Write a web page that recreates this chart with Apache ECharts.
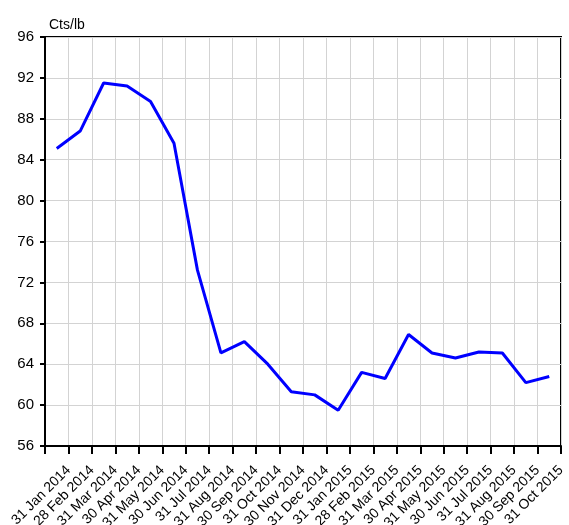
<!DOCTYPE html>
<html>
<head>
<meta charset="utf-8">
<script src="https://cdn.jsdelivr.net/npm/echarts@6/dist/echarts.min.js"></script>
<style>
  html, body { margin: 0; padding: 0; background: #fff; }
  #main { width: 569px; height: 525px; }
</style>
</head>
<body>
<div id="main"></div>
<script>
// month-end dates on the x axis
var months = ['31 Jan 2014', '28 Feb 2014', '31 Mar 2014', '30 Apr 2014', '31 May 2014', '30 Jun 2014',
    '31 Jul 2014', '31 Aug 2014', '30 Sep 2014', '31 Oct 2014', '30 Nov 2014', '31 Dec 2014',
    '31 Jan 2015', '28 Feb 2015', '31 Mar 2015', '30 Apr 2015', '31 May 2015', '30 Jun 2015',
    '31 Jul 2015', '31 Aug 2015', '30 Sep 2015', '31 Oct 2015'];
// price, cents per pound
var prices = [85.1, 86.8, 91.5, 91.2, 89.7, 85.6, 73.2, 65.1, 66.2, 64.0, 61.3, 61.0,
    59.5, 63.2, 62.6, 66.9, 65.1, 64.6, 65.2, 65.1, 62.2, 62.8];
var yTicks = { min: 56, max: 96, step: 4 };

(function () {
    var myChart = echarts.init(document.getElementById('main'));
    // each point sits in the middle of its month band
    var points = prices.map(function (v, i) { return [i + 0.5, v]; });

    var option = {
        animation: false,
        title: {
            text: 'Cts/lb',
            left: 44,
            top: 13,
            textStyle: { fontFamily: 'Liberation Sans', fontSize: 14, fontWeight: 'normal', color: '#000' }
        },
        grid: {
            left: 45, right: 8, top: 37, bottom: 79,
            outerBoundsMode: 'none',
            containLabel: false,
            show: true, borderColor: '#000', borderWidth: 2, backgroundColor: '#fff'
        },
        xAxis: {
            type: 'value',
            min: 0,
            max: months.length,
            interval: 1,
            axisLine: { show: true, lineStyle: { color: '#000', width: 2 } },
            axisTick: { show: true, length: 8, lineStyle: { color: '#000', width: 2 } },
            splitLine: { show: true, lineStyle: { color: '#d3d3d3', width: 1 } },
            axisLabel: {
                rotate: 45,
                margin: 22,
                showMinLabel: true,
                showMaxLabel: true,
                hideOverlap: false,
                color: '#000',
                fontFamily: 'Liberation Sans',
                fontSize: 14,
                formatter: function (v) { return v > 0 ? months[v - 1] : ''; }
            }
        },
        yAxis: {
            type: 'value',
            min: yTicks.min,
            max: yTicks.max,
            interval: yTicks.step,
            axisLine: { show: true, lineStyle: { color: '#000', width: 2 } },
            axisTick: { show: true, length: 5, lineStyle: { color: '#000', width: 2 } },
            splitLine: { show: true, lineStyle: { color: '#d3d3d3', width: 1 } },
            axisLabel: {
                margin: 11,
                color: '#000',
                fontFamily: 'Liberation Sans',
                fontSize: 15
            }
        },
        series: [{
            type: 'line',
            data: points,
            symbol: 'none',
            lineStyle: { color: '#0000ff', width: 3 }
        }]
    };
    myChart.setOption(option);
})();
</script>
</body>
</html>
